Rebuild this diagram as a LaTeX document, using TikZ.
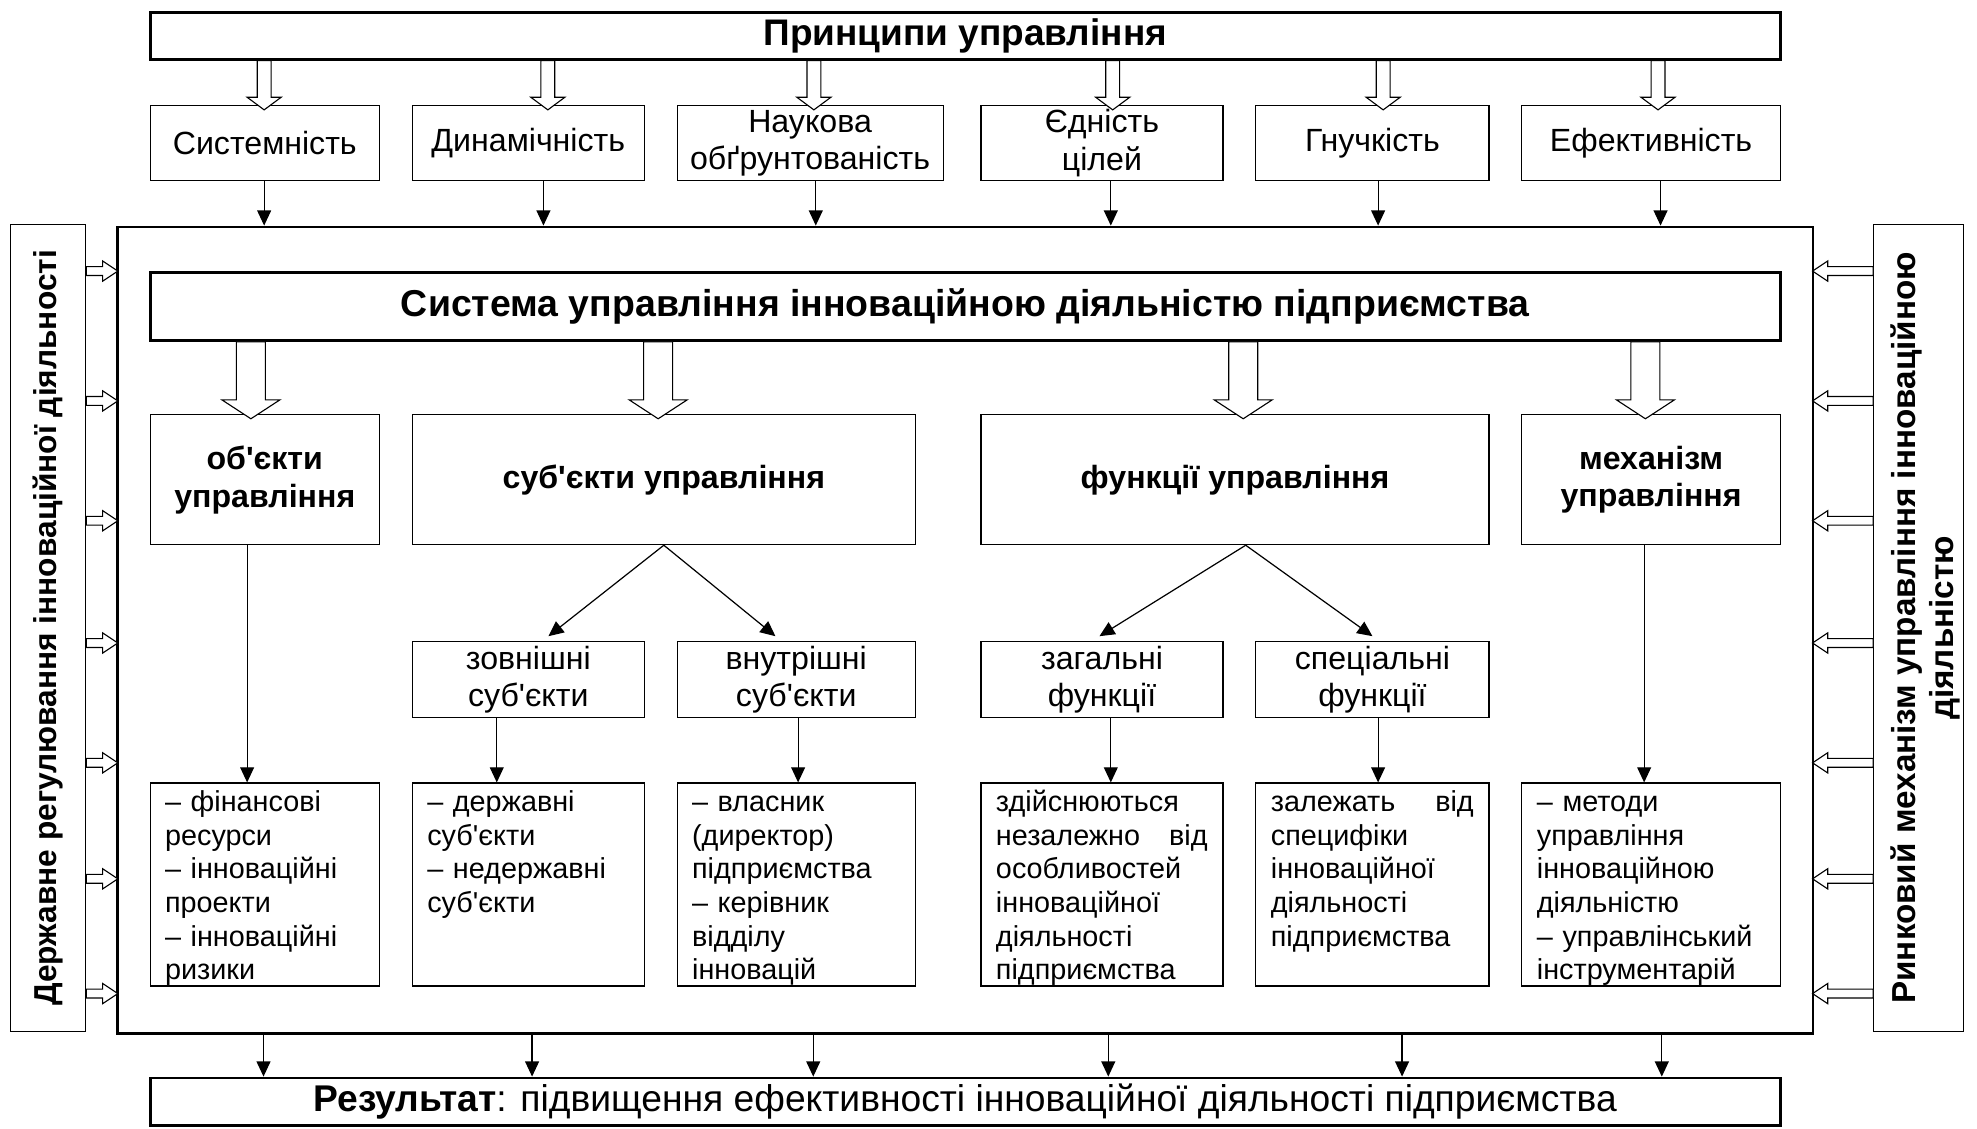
\documentclass[tikz,border=0pt]{standalone}
\usepackage{fontspec}
\setmainfont{Liberation Sans}[Ligatures=TeXOff]
\usetikzlibrary{arrows.meta,positioning}
\tikzset{
 thickbox/.style={draw,line width=1.3pt,inner sep=0pt,align=center},
 box/.style={draw,line width=0.5pt,inner sep=0pt,align=center,font=\fontsize{14.5}{16.9}\selectfont},
 headbox/.style={box,font=\fontsize{14.5}{17}\selectfont\bfseries},
 listbox/.style={draw,line width=0.5pt,inner sep=0pt,minimum height=3.22cm},
 listtext/.style={anchor=north west,inner xsep=0.24cm,inner ysep=0.08cm,align=left,font=\fontsize{13}{15.2}\selectfont},
 link/.style={-{Triangle[length=2.4mm,width=2.2mm]},line width=0.55pt},
 hollow/.style={draw,fill=white,line width=0.5pt,line join=miter},
}
% start, angle, length, shaft, head, head length
\newcommand{\fat}[6]{\draw[hollow,shift={#1},rotate=#2] (0,-#4/2) -- ({#3-#6},-#4/2) -- ({#3-#6},-#5/2)
 -- (#3,0) -- ({#3-#6},#5/2) -- ({#3-#6},#4/2) -- (0,#4/2) -- cycle;}

\begin{document}
\begin{tikzpicture}[x=0.02cm,y=-0.02cm]
\useasboundingbox (0,0) rectangle (1568,895);
\node[thickbox,minimum width=26.9cm,minimum height=12.8cm] (main) at (765.5,500) {};
\node[thickbox,minimum width=25.86cm,minimum height=0.74cm,font=\fontsize{16.7}{19}\selectfont\bfseries] (prin) at (765.5,28.5) {Принципи управління};
\foreach \n/\x/\w/\t in {
 pr1/210/3.64/Системність,
 pr2/419/3.68/Динамічність,
 pr3/642.5/4.22/{Наукова\\обґрунтованість},
 pr4/874/3.84/{Єдність\\цілей},
 pr5/1088.5/3.70/Гнучкість,
 pr6/1309.5/4.10/Ефективність}
 \node[box,minimum width=\w cm,minimum height=1.18cm] (\n) at (\x,113.5) {\t};
\foreach \n/\xa/\xb in {pr1/209.5/209.5,pr2/434.5/431,pr3/645.5/647,pr4/882.5/881,pr5/1097/1093,pr6/1315/1317}{
 \fat{(prin.south -| \xa,0)}{-90}{39}{11}{27}{10}
 \draw[link] (\n.south -| \xb,0) -- (main.north -| \xb,0);
}
\node[draw,line width=0.5pt,rotate=90,minimum width=12.8cm,minimum height=1.2cm,
 font=\fontsize{14.3}{17}\selectfont\bfseries] (state) at (38,498) {Державне регулювання інноваційної діяльності};
\node[draw,line width=0.5pt,rotate=90,minimum width=12.8cm,minimum height=1.42cm] (market) at (1521.5,498) {};
\node[rotate=90,align=center,inner sep=0pt,font=\fontsize{15}{17}\selectfont\bfseries] (markett) at (1527,498)
 {Ринковий механізм управління інноваційною\\діяльністю};
\foreach \y in {215,318,413,510,605,697,788}{
 \fat{(state.south |- 0,\y)}{0}{25}{7}{16}{12}
 \fat{(market.north |- 0,\y)}{180}{48}{7}{16}{12}
}
\node[thickbox,minimum width=25.86cm,minimum height=1.08cm,font=\fontsize{16.9}{19}\selectfont\bfseries] (sys) at (765.5,243)
 {Система управління інноваційною діяльністю підприємства};
\node[headbox,minimum width=3.64cm,minimum height=2.06cm] (obj) at (210,380.5) {об'єкти\\управління};
\node[headbox,minimum width=7.98cm,minimum height=2.06cm] (subj) at (526.5,380.5) {суб'єкти управління};
\node[headbox,minimum width=8.06cm,minimum height=2.06cm] (func) at (979.5,380.5) {функції управління};
\node[headbox,minimum width=4.10cm,minimum height=2.06cm] (mech) at (1309.5,380.5) {механізм\\управління};
\foreach \x in {199,522,986,1305}{
 \fat{(sys.south -| \x,0)}{-90}{61}{23}{46}{15}
}
\node[box,minimum width=3.68cm,minimum height=1.2cm] (subjext) at (419,539) {зовнішні\\суб'єкти};
\node[box,minimum width=3.78cm,minimum height=1.2cm] (subjint) at (631.5,539) {внутрішні\\суб'єкти};
\node[box,minimum width=3.84cm,minimum height=1.2cm] (funcgen) at (874,539) {загальні\\функції};
\node[box,minimum width=3.70cm,minimum height=1.2cm] (funcspec) at (1088.5,539) {спеціальні\\функції};
\draw[link] (subj.south) -- ([xshift=0.32cm,yshift=0.08cm]subjext.north);
\draw[link] (subj.south) -- ([xshift=-0.33cm,yshift=0.08cm]subjint.north);
\draw[link] ([xshift=0.17cm]func.south) -- ([xshift=-0.04cm,yshift=0.08cm]funcgen.north);
\draw[link] ([xshift=0.17cm]func.south) -- ([yshift=0.08cm]funcspec.north);
\node[listbox,minimum width=3.64cm] (objl) at (210,701.5) {};
\node[listbox,minimum width=3.68cm] (extl) at (419,701.5) {};
\node[listbox,minimum width=3.78cm] (intl) at (631.5,701.5) {};
\node[listbox,minimum width=3.84cm] (genl) at (874,701.5) {};
\node[listbox,minimum width=3.70cm] (specl) at (1088.5,701.5) {};
\node[listbox,minimum width=4.10cm] (mechl) at (1309.5,701.5) {};
\node[listtext,text width=3.16cm] (objt) at (objl.north west) {\strut– фінансові\\ресурси\\– інноваційні\\проекти\\– інноваційні\\ризики};
\node[listtext,text width=3.20cm] (extt) at (extl.north west) {\strut– державні\\суб'єкти\\– недержавні\\суб'єкти};
\node[listtext,text width=3.30cm] (intt) at (intl.north west) {\strut– власник\\(директор)\\підприємства\\– керівник\\відділу\\інновацій};
\node[listtext,text width=3.36cm] (gent) at (genl.north west) {\strut здійснюються\\незалежно\hfill від\\особливостей\\інноваційної\\діяльності\\підприємства};
\node[listtext,text width=3.22cm] (spect) at (specl.north west) {\strut залежать\hfill від\\специфіки\\інноваційної\\діяльності\\підприємства};
\node[listtext,text width=3.62cm] (mecht) at (mechl.north west) {\strut– методи\\управління\\інноваційною\\діяльністю\\– управлінський\\інструментарій};
\draw[link] (obj.south -| 196,0) -- (objl.north -| 196,0);
\draw[link] (subjext.south -| 394,0) -- (extl.north -| 394,0);
\draw[link] (subjint.south -| 633,0) -- (intl.north -| 633,0);
\draw[link] (funcgen.south -| 881,0) -- (genl.north -| 881,0);
\draw[link] (funcspec.south -| 1093,0) -- (specl.north -| 1093,0);
\draw[link] (mech.south -| 1304,0) -- (mechl.north -| 1304,0);
\node[thickbox,minimum width=25.86cm,minimum height=0.76cm,font=\fontsize{16.8}{19}\selectfont] (res) at (765.5,874)
 {\textbf{Результат}: підвищення ефективності інноваційної діяльності підприємства};
\foreach \x in {209,422,645,879,1112,1318}
 \draw[link] (main.south -| \x,0) -- (res.north -| \x,0);
\end{tikzpicture}
\end{document}
